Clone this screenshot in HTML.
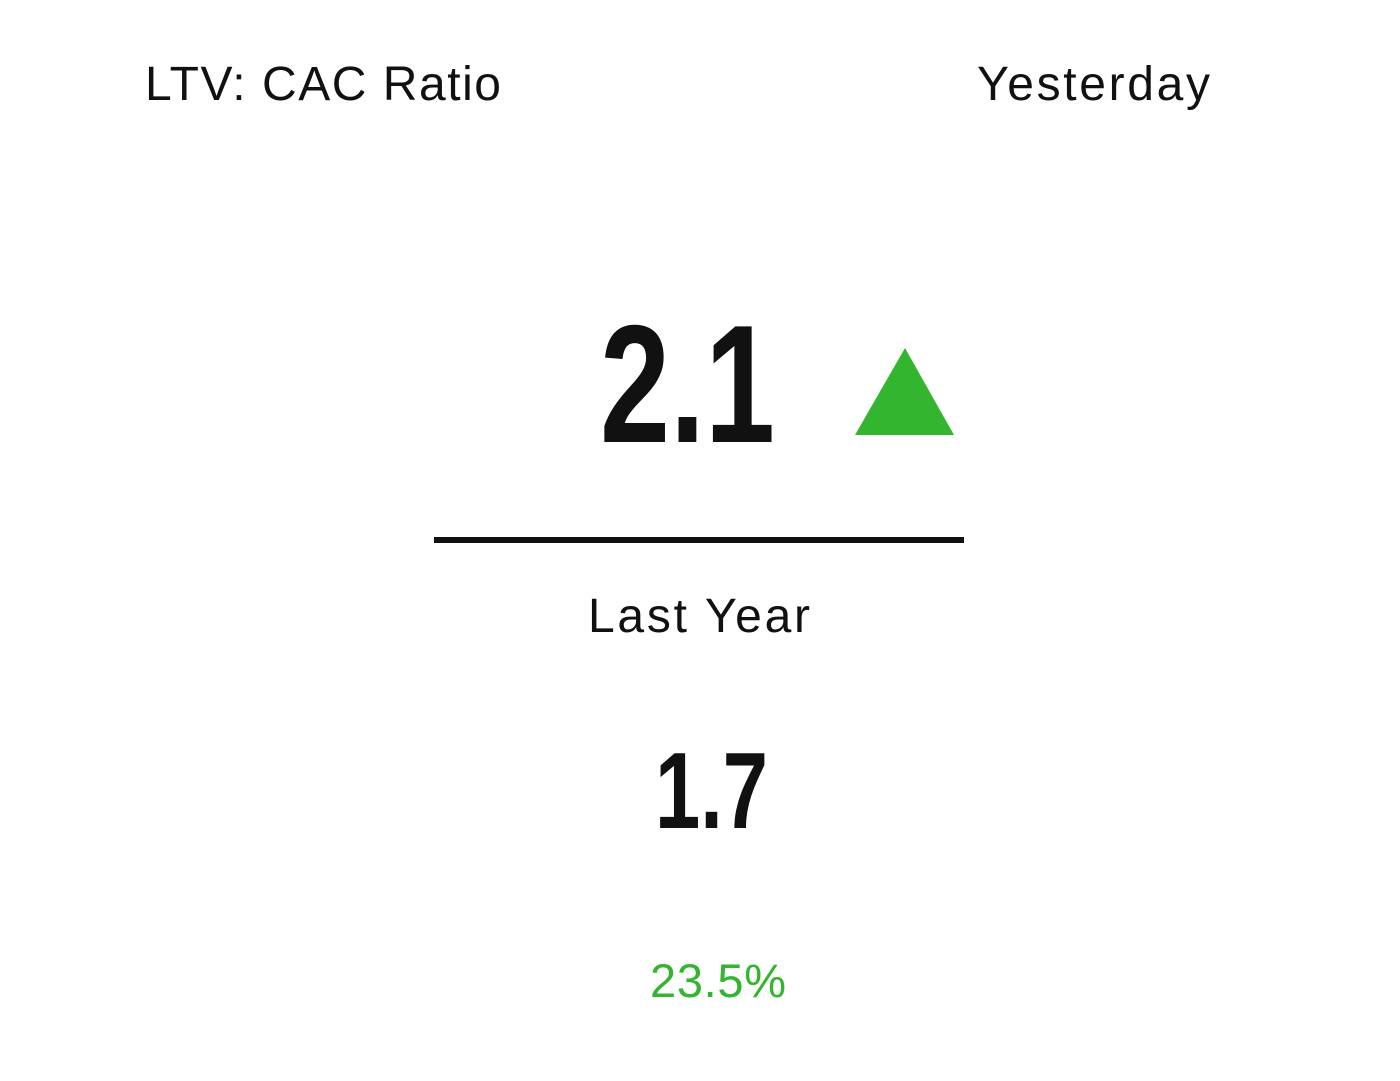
<!DOCTYPE html>
<html><head><meta charset="utf-8"><style>
html,body{margin:0;padding:0;background:#fff;width:1400px;height:1081px;overflow:hidden}
svg{display:block}
text{font-family:"Liberation Sans",sans-serif}
</style></head><body>
<svg width="1400" height="1081">
<text x="145" y="100" font-size="48" textLength="356" lengthAdjust="spacing" fill="#111">LTV: CAC Ratio</text>
<text x="977" y="100" font-size="48" textLength="233" lengthAdjust="spacing" fill="#111">Yesterday</text>
<text id="cur" x="600" y="442" font-size="168" font-weight="bold" textLength="175" lengthAdjust="spacingAndGlyphs" fill="#111"></text>
<polygon id="tri" points="905,348 855,435 954,435" fill="#33b52f"/>
<rect x="434" y="537" width="530" height="6" fill="#111"/>
<text x="588" y="632" font-size="48" textLength="222" lengthAdjust="spacing" fill="#111">Last Year</text>
<text id="prev" x="655" y="828" font-size="109" font-weight="bold" textLength="113" lengthAdjust="spacingAndGlyphs" fill="#111"></text>
<text id="chg" x="650" y="997" font-size="47" textLength="136" lengthAdjust="spacing" fill="#33b52f"></text>
</svg>
<script>
const currentValue = [2.1];
const previousValue = [1.7];
const percentChange = [23.5];
document.getElementById('cur').textContent = currentValue[0].toFixed(1);
document.getElementById('prev').textContent = previousValue[0].toFixed(1);
document.getElementById('chg').textContent = percentChange[0].toFixed(1) + '%';
const up = currentValue[0] >= previousValue[0];
const tri = document.getElementById('tri');
if (!up) { tri.setAttribute('points','905,435 855,348 954,348'); tri.setAttribute('fill','#d33'); document.getElementById('chg').setAttribute('fill','#d33'); }
</script>
</body></html>
